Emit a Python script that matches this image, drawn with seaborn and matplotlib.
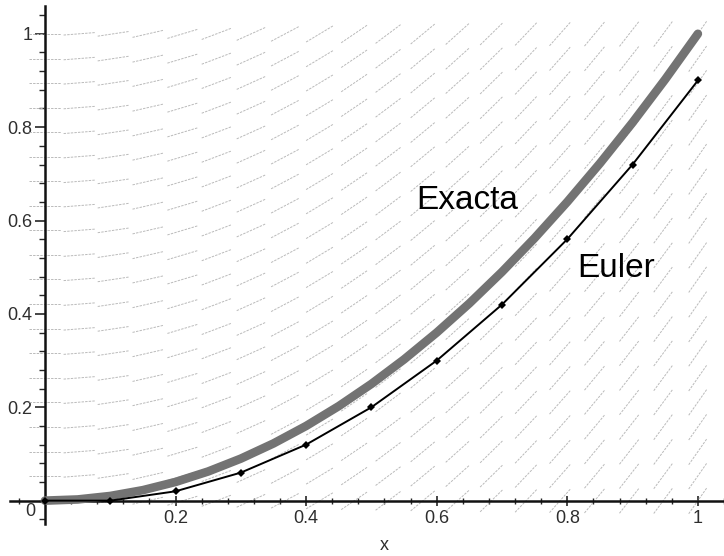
import numpy as np
import pandas as pd
import matplotlib
matplotlib.use("Agg")
import matplotlib.pyplot as plt
from matplotlib.collections import LineCollection
from matplotlib.ticker import MultipleLocator
import seaborn as sns

# Euler method, step 0.1
euler_x = [0.0, 0.1, 0.2, 0.3, 0.4, 0.5, 0.6, 0.7, 0.8, 0.9, 1.0]
euler_y = [0.0, 0.0, 0.02, 0.06, 0.12, 0.20, 0.30, 0.42, 0.56, 0.72, 0.90]

# exact solution (thick grey curve)
exact_x = [0.0, 0.05, 0.1, 0.15, 0.2, 0.25, 0.3, 0.35, 0.4, 0.45, 0.5,
           0.55, 0.6, 0.65, 0.7, 0.75, 0.8, 0.85, 0.9, 0.95, 1.0]
exact_y = [0.0, 0.0025, 0.01, 0.0225, 0.04, 0.0625, 0.09, 0.1225, 0.16, 0.2025, 0.25,
           0.3025, 0.36, 0.4225, 0.49, 0.5625, 0.64, 0.7225, 0.81, 0.9025, 1.0]

# direction field: one slope per column, same in every row
field_cols = [0.0, 0.053, 0.105, 0.158, 0.211, 0.263, 0.316, 0.368, 0.421, 0.474,
              0.526, 0.579, 0.632, 0.684, 0.737, 0.789, 0.842, 0.895, 0.947, 1.0]
field_slopes = [0.0, 0.11, 0.21, 0.32, 0.42, 0.53, 0.63, 0.74, 0.84, 0.95,
                1.05, 1.16, 1.26, 1.37, 1.47, 1.58, 1.68, 1.79, 1.89, 2.0]
field_rows = [0.0, 0.053, 0.105, 0.158, 0.211, 0.263, 0.316, 0.368, 0.421, 0.474,
              0.526, 0.579, 0.632, 0.684, 0.737, 0.789, 0.842, 0.895, 0.947, 1.0]

x_ticks = [0.2, 0.4, 0.6, 0.8, 1.0]
x_labels = ["0.2", "0.4", "0.6", "0.8", "1"]
y_ticks = [0.2, 0.4, 0.6, 0.8, 1.0]
y_labels = ["0.2", "0.4", "0.6", "0.8", "1"]

df_exact = pd.DataFrame({"x": exact_x, "y": exact_y})
df_euler = pd.DataFrame({"x": euler_x, "y": euler_y})

sns.set_theme(style="white")
plt.rcParams["font.family"] = ["Liberation Sans", "DejaVu Sans"]

fig = plt.figure(figsize=(7.24, 5.56), dpi=100)
ax = fig.add_axes([0.0134, 0.0576, 0.9866, 0.932])
ax.set_xlim(-0.054, 1.04)
ax.set_ylim(-0.05, 1.06)

# slope segments, constant length on screen
px_x = 653.0
px_y = 467.0
seg_len = 32.0
segs = []
for cx, s in zip(field_cols, field_slopes):
    sp = s * px_y / px_x
    hx = seg_len / 2 / np.sqrt(1 + sp ** 2)
    hy = hx * sp
    for cy in field_rows:
        segs.append([(cx - hx / px_x, cy - hy / px_y), (cx + hx / px_x, cy + hy / px_y)])
lc = LineCollection(segs, colors="#bababa", linewidths=0.7, linestyles=(0, (2.5, 1.2)), zorder=1)
ax.add_collection(lc)

sns.lineplot(data=df_exact, x="x", y="y", ax=ax, color="#737373", linewidth=6.2,
             solid_capstyle="round", zorder=3)
sns.lineplot(data=df_euler, x="x", y="y", ax=ax, color="black", linewidth=1.4,
             marker="D", markersize=3.8, markeredgewidth=0, zorder=4)

ax.text(0.568, 0.625, "Exacta", fontsize=24, color="black")
ax.text(0.815, 0.48, "Euler", fontsize=24, color="black")
ax.text(-0.015, -0.005, "0", fontsize=13, color="#2e2e2e", ha="right", va="top")

# maple style axes through the origin
for side in ["top", "right"]:
    ax.spines[side].set_visible(False)
ax.spines["left"].set_position(("data", 0))
ax.spines["bottom"].set_position(("data", 0))
ax.spines["left"].set_linewidth(1.8)
ax.spines["bottom"].set_linewidth(1.8)
ax.spines["left"].set_color("#111111")
ax.spines["bottom"].set_color("#111111")

ax.set_xticks(x_ticks)
ax.set_xticklabels(x_labels)
ax.set_yticks(y_ticks)
ax.set_yticklabels(y_labels)
ax.xaxis.set_minor_locator(MultipleLocator(0.04))
ax.yaxis.set_minor_locator(MultipleLocator(0.04))
ax.tick_params(axis="x", which="major", direction="inout", length=7, width=1.2,
               labelsize=13, labelcolor="#2e2e2e", pad=3, bottom=True)
ax.tick_params(axis="x", which="minor", direction="inout", length=4, width=1.0, bottom=True)
ax.tick_params(axis="y", which="major", direction="out", length=7, width=1.2,
               labelsize=13, labelcolor="#2e2e2e", pad=2, left=True)
ax.tick_params(axis="y", which="minor", direction="out", length=4, width=1.0, left=True)

ax.set_xlabel("x", fontsize=13, color="#2e2e2e")
ax.set_ylabel("")
ax.xaxis.set_label_coords(0.525, -0.025)
ax.grid(False)

fig.savefig("out.png", dpi=100)
